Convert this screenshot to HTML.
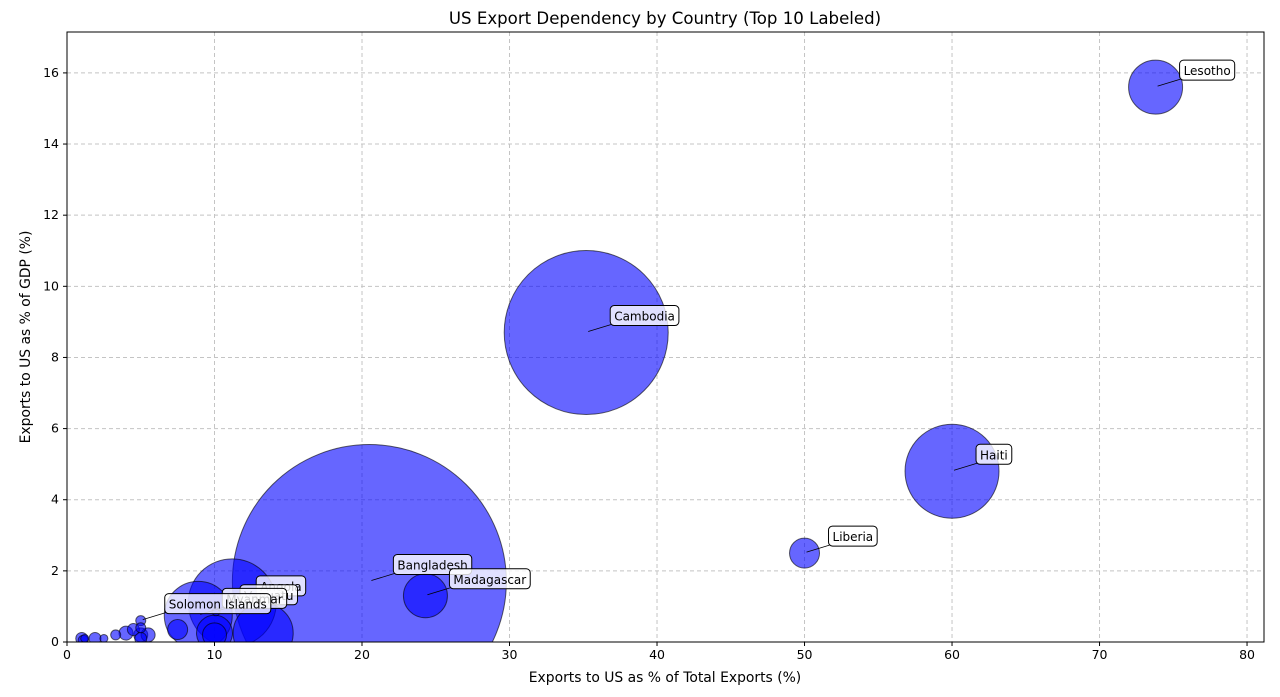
<!DOCTYPE html>
<html><head><meta charset="utf-8"><style>
body{margin:0;background:#fff;}
svg text{font-family:"DejaVu Sans","Liberation Sans",sans-serif;}
</style></head><body>
<svg id="chart" width="1280" height="692" xmlns="http://www.w3.org/2000/svg">
<defs><clipPath id="plotclip"><rect x="67" y="32" width="1197" height="610"/></clipPath></defs>
<rect width="1280" height="692" fill="#fff"/>
<g id="grid"></g>
<g id="bubbles" clip-path="url(#plotclip)"></g>
<g id="labels"></g>
<rect x="67" y="32" width="1197" height="610" fill="none" stroke="#000" stroke-width="1"/>
<g id="ticks"></g>
<text x="665" y="24" text-anchor="middle" font-size="16.6">US Export Dependency by Country (Top 10 Labeled)</text>
<text x="665" y="682" text-anchor="middle" font-size="13.9">Exports to US as % of Total Exports (%)</text>
<text x="30" y="337" text-anchor="middle" font-size="13.9" transform="rotate(-90 30 337)">Exports to US as % of GDP (%)</text>
</svg>
<script>
const countries=["Bangladesh","Cambodia","Haiti","Angola","Myanmar","Lesotho","c07","Vanuatu","Madagascar","Liberia","c11","Solomon Islands","c13","c14","c15","c16","c17","c18","c19","c20","c21","c22","c23","c24","c25","c26"];
const xVals=[20.5,35.2,60.0,11.2,8.9,73.8,13.3,10.1,24.3,50.0,7.5,5.0,5.0,5.0,5.0,5.5,4.5,4.0,3.3,2.5,1.9,1.0,1.1,1.2,10.0,10.0];
const yVals=[1.7,8.7,4.8,1.1,0.75,15.6,0.25,0.85,1.3,2.5,0.35,0.6,0.4,0.2,0.1,0.2,0.35,0.25,0.2,0.1,0.1,0.1,0.05,0.1,0.25,0.2];
const sizeVals=[18769,6724,2209,1936,1156,729,900,16,484,225,100,25,25,49,36,49,36,49,25,16,36,36,25,16,324,144];
const labeled=["Lesotho","Cambodia","Haiti","Liberia","Bangladesh","Madagascar","Angola","Vanuatu","Myanmar","Solomon Islands"];
const xTicks=[0,10,20,30,40,50,60,70,80];
const yTicks=[0,2,4,6,8,10,12,14,16];
const NS="http://www.w3.org/2000/svg";
const X0=67,X1=1264,Y0=642,Y1=32,xMax=81.15,yMax=17.15;
function sx(v){return X0+v/xMax*(X1-X0);}
function sy(v){return Y0-v/yMax*(Y0-Y1);}
function mk(tag,attrs,parent){const e=document.createElementNS(NS,tag);for(const k in attrs)e.setAttribute(k,attrs[k]);parent.appendChild(e);return e;}
const grid=document.getElementById('grid'),ticks=document.getElementById('ticks');
xTicks.forEach(t=>{const x=sx(t);
const g=mk('line',{x1:x,x2:x,y1:Y1,y2:Y0,stroke:'#c4c4c4','stroke-dasharray':'4,3'},grid);


const tk=mk('line',{x1:x,x2:x,y1:Y0,y2:Y0+4,stroke:'#000'},ticks);


const tl=mk('text',{x:x,y:Y0+17,'text-anchor':'middle','font-size':'12.5'},ticks);tl.textContent=t;

});
yTicks.forEach(t=>{const y=sy(t);
const g=mk('line',{x1:X0,x2:X1,y1:y,y2:y,stroke:'#c4c4c4','stroke-dasharray':'4,3'},grid);


const tk=mk('line',{x1:X0-4,x2:X0,y1:y,y2:y,stroke:'#000'},ticks);


const tl=mk('text',{x:X0-8,y:y+4,'text-anchor':'end','font-size':'12.5'},ticks);tl.textContent=t;

});
const bub=document.getElementById('bubbles');
const order=countries.map((c,i)=>i).sort((a,b)=>sizeVals[b]-sizeVals[a]);
order.forEach(i=>{const c=mk('circle',{cx:sx(xVals[i]),cy:sy(yVals[i]),r:Math.sqrt(sizeVals[i]),fill:'rgba(0,0,255,0.6)',stroke:'rgba(0,0,0,0.6)','stroke-width':'1'},bub);

});
const lab=document.getElementById('labels');
labeled.forEach(n=>{const i=countries.indexOf(n);const px=sx(xVals[i]),py=sy(yVals[i]);
const g=mk('g',{},lab);


mk('line',{x1:px+2,y1:py-1,x2:px+25,y2:py-8,stroke:'#000','stroke-width':'0.8'},g);
const t=mk('text',{x:px+28,y:py-12,'font-size':'12'},g);t.textContent=n;
const w=t.getComputedTextLength();
const r=mk('rect',{x:px+24,y:py-27,width:w+8,height:20,rx:4,fill:'rgba(255,255,255,0.8)',stroke:'#000','stroke-width':'1'},g);
g.insertBefore(r,t);});
</script>
</body></html>
